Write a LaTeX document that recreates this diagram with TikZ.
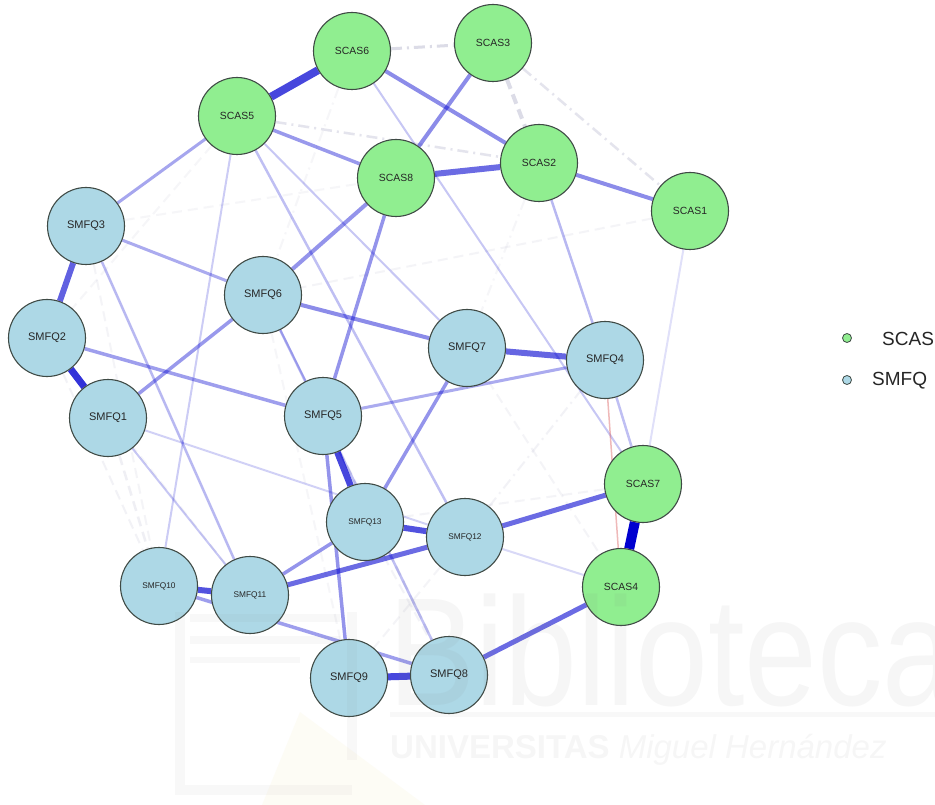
\documentclass[tikz,border=0pt]{standalone}
\usepackage{fontspec}
\setmainfont{Liberation Sans}
\usetikzlibrary{backgrounds}
\definecolor{nodegreen}{HTML}{90EE90}
\definecolor{nodeblue}{HTML}{ADD8E6}
\definecolor{nodeline}{HTML}{3F4A45}
\definecolor{posedge}{HTML}{0000D0}
\definecolor{negedge}{HTML}{D85050}
\definecolor{weakedge}{HTML}{A8A8C4}
\definecolor{wmgray}{HTML}{808080}
\definecolor{wmyellow}{HTML}{E8D060}

\begin{document}
\begin{tikzpicture}[x=1pt,y=-1pt,
  item/.style={circle, draw=nodeline, line width=1.1pt, minimum size=77pt,
    inner sep=0pt, text=black!85, font=\fontsize{10.4}{12}\selectfont},
  scas/.style={item, fill=nodegreen},
  smfq/.style={item, fill=nodeblue, font=\fontsize{11}{12}\selectfont},
  smfqs/.style={item, fill=nodeblue, font=\fontsize{8.3}{10}\selectfont},
  plink/.style 2 args={draw=posedge, line width=#1, draw opacity=#2},
  nlink/.style 2 args={draw=negedge, line width=#1, draw opacity=#2},
  wlink/.style 2 args={draw=weakedge, line width=#1, draw opacity=#2,
    dash pattern=on 10pt off 6pt},
  wdot/.style 2 args={draw=weakedge, line width=#1, draw opacity=#2,
    dash pattern=on 11pt off 5pt on 2pt off 5pt},
  legdot/.style={circle, draw=nodeline, line width=0.8pt, minimum size=9pt, inner sep=0pt},
  legtext/.style={anchor=west, inner sep=0pt, font=\fontsize{19}{22}\selectfont, text=black!85}
]
\useasboundingbox (0,0) rectangle (935,805);

% ---- variables ----
\node[scas] (SCAS6) at (352,51)  {SCAS6};
\node[scas] (SCAS3) at (493,43)  {SCAS3};
\node[scas] (SCAS5) at (237,116) {SCAS5};
\node[scas] (SCAS8) at (396,178) {SCAS8};
\node[scas] (SCAS2) at (539,163) {SCAS2};
\node[scas] (SCAS1) at (690,211) {SCAS1};
\node[scas] (SCAS7) at (643,484) {SCAS7};
\node[scas] (SCAS4) at (621,587) {SCAS4};
\node[smfq] (SMFQ3) at (86,226)  {SMFQ3};
\node[smfq] (SMFQ6) at (263,295) {SMFQ6};
\node[smfq] (SMFQ2) at (47,338)  {SMFQ2};
\node[smfq] (SMFQ1) at (108,418) {SMFQ1};
\node[smfq] (SMFQ7) at (467,348) {SMFQ7};
\node[smfq] (SMFQ4) at (605,360) {SMFQ4};
\node[smfq] (SMFQ5) at (323,416) {SMFQ5};
\node[smfqs] (SMFQ13) at (365,522) {SMFQ13};
\node[smfqs] (SMFQ12) at (465,537) {SMFQ12};
\node[smfqs] (SMFQ10) at (159,586) {SMFQ10};
\node[smfqs] (SMFQ11) at (250,595) {SMFQ11};
\node[smfq] (SMFQ9) at (349,678) {SMFQ9};
\node[smfq] (SMFQ8) at (449,675) {SMFQ8};

% ---- edges, behind the circles ----
\begin{pgfonlayer}{background}
  \fill[white] (0,0) rectangle (935,805);
  % weak edges
  \draw[wdot={3}{0.4}] (SCAS6) -- (SCAS3);
  \draw[wdot={2.5}{0.3}] (SCAS5) -- (SCAS2);
  \draw[wlink={4}{0.4}] (SCAS3) -- (SCAS2);
  \draw[wdot={2.5}{0.3}] (SCAS3) -- (SCAS1);
  \draw[wlink={2}{0.12}] (SCAS1) -- (SMFQ6);
  \draw[wlink={2.5}{0.18}] (SMFQ1) -- (SMFQ10);
  \draw[wlink={2}{0.14}] (SMFQ2) -- (SMFQ10);
  \draw[wlink={2}{0.12}] (SMFQ3) -- (SMFQ10);
  \draw[wlink={2.5}{0.16}] (SMFQ5) -- (SMFQ8);
  \draw[wlink={2}{0.13}] (SMFQ13) -- (SMFQ8);
  \draw[wlink={2}{0.12}] (SMFQ12) -- (SMFQ9);
  \draw[wdot={2}{0.14}] (SMFQ12) -- (SMFQ4);
  \draw[wlink={2}{0.12}] (SMFQ7) -- (SCAS4);
  \draw[wlink={2}{0.12}] (SMFQ13) -- (SCAS7);
  \draw[wlink={2}{0.1}] (SMFQ6) -- (SMFQ9);
  \draw[wlink={2}{0.1}] (SMFQ3) -- (SCAS8);
  \draw[wdot={2}{0.1}] (SCAS6) -- (SMFQ6);
  \draw[wlink={2}{0.1}] (SCAS5) -- (SMFQ2);
  \draw[wdot={2}{0.1}] (SCAS2) -- (SMFQ7);
  \draw[wlink={2}{0.1}] (SMFQ2) -- (SMFQ11);
  % light edges
  \draw[plink={2}{0.12}] (SCAS1) -- (SCAS7);
  \draw[plink={2}{0.15}] (SMFQ12) -- (SCAS4);
  \draw[plink={2}{0.18}] (SMFQ1) -- (SMFQ12);
  \draw[plink={2}{0.22}] (SMFQ1) -- (SMFQ11);
  \draw[plink={2}{0.2}] (SCAS5) -- (SMFQ10);
  \draw[plink={2}{0.2}] (SMFQ6) -- (SMFQ5);
  \draw[plink={2.5}{0.25}] (SMFQ6) -- (SMFQ8);
  \draw[plink={2}{0.22}] (SCAS6) -- (SCAS7);
  \draw[plink={2}{0.22}] (SCAS5) -- (SMFQ7);
  \draw[plink={2.5}{0.25}] (SCAS5) -- (SMFQ12);
  \draw[plink={2.5}{0.25}] (SMFQ4) -- (SCAS7);
  \draw[plink={2.5}{0.28}] (SCAS2) -- (SMFQ4);
  \draw[plink={2.5}{0.28}] (SMFQ3) -- (SMFQ11);
  \draw[nlink={1.5}{0.4}] (SMFQ4) -- (SCAS4);
  % medium edges
  \draw[plink={3}{0.33}] (SMFQ3) -- (SMFQ6);
  \draw[plink={3}{0.35}] (SCAS5) -- (SMFQ3);
  \draw[plink={3}{0.33}] (SMFQ5) -- (SMFQ4);
  \draw[plink={3.5}{0.38}] (SMFQ10) -- (SMFQ8);
  \draw[plink={3.5}{0.42}] (SMFQ5) -- (SMFQ9);
  \draw[plink={3.5}{0.42}] (SMFQ13) -- (SMFQ11);
  \draw[plink={3.5}{0.42}] (SMFQ7) -- (SMFQ13);
  \draw[plink={3.5}{0.38}] (SMFQ2) -- (SMFQ5);
  \draw[plink={3.5}{0.4}] (SMFQ6) -- (SMFQ1);
  \draw[plink={3.5}{0.4}] (SCAS5) -- (SCAS8);
  \draw[plink={3.5}{0.42}] (SCAS8) -- (SMFQ5);
  \draw[plink={4}{0.42}] (SMFQ6) -- (SCAS8);
  \draw[plink={4}{0.45}] (SMFQ6) -- (SMFQ7);
  \draw[plink={4}{0.45}] (SCAS2) -- (SCAS1);
  \draw[plink={4}{0.45}] (SCAS3) -- (SCAS8);
  \draw[plink={4}{0.45}] (SCAS6) -- (SCAS2);
  % strong edges
  \draw[plink={5}{0.58}] (SCAS4) -- (SMFQ8);
  \draw[plink={5}{0.58}] (SMFQ12) -- (SCAS7);
  \draw[plink={5}{0.58}] (SMFQ12) -- (SMFQ11);
  \draw[plink={6}{0.58}] (SCAS8) -- (SCAS2);
  \draw[plink={6}{0.68}] (SMFQ10) -- (SMFQ11);
  \draw[plink={6}{0.68}] (SMFQ13) -- (SMFQ12);
  \draw[plink={6}{0.6}] (SMFQ7) -- (SMFQ4);
  \draw[plink={6}{0.62}] (SMFQ3) -- (SMFQ2);
  \draw[plink={6.5}{0.72}] (SMFQ5) -- (SMFQ13);
  \draw[plink={7}{0.72}] (SMFQ9) -- (SMFQ8);
  \draw[plink={7}{0.8}] (SMFQ2) -- (SMFQ1);
  \draw[plink={8}{0.72}] (SCAS5) -- (SCAS6);
  \draw[plink={10}{1}] (SCAS7) -- (SCAS4);
\end{pgfonlayer}

% ---- legend ----
\node[legdot, fill=nodegreen] (legS) at (847,338) {};
\node[legdot, fill=nodeblue]  (legM) at (847,380) {};
\node[legtext] (legStext) at (882,339) {SCAS};
\node[legtext] (legMtext) at (872,381) {SMFQ};

% ---- library watermark ----
\begin{scope}[opacity=0.05]
  \draw[wmgray, line width=10pt] (180,612) -- (180,790) -- (352,790);
  \draw[wmgray, line width=10pt] (352,612) -- (352,760);
  \draw[wmgray, line width=8pt] (190,618) -- (340,618);
  \draw[wmgray, line width=8pt] (190,640) -- (340,640);
  \draw[wmgray, line width=6pt] (190,660) -- (300,660);
  \draw[wmgray, line width=5pt] (390,714) -- (935,714);
\end{scope}
\fill[wmyellow, opacity=0.06] (262,805) -- (300,712) -- (425,805) -- cycle;
\node[anchor=base west, inner sep=0pt, xscale=0.85, text=wmgray, text opacity=0.07,
  font=\fontsize{154}{160}\selectfont] (wmTitle) at (388,705) {Biblioteca};
\node[anchor=base west, inner sep=0pt, text=wmgray, text opacity=0.07,
  font=\fontsize{33}{36}\selectfont] (wmSub) at (390,758)
  {\textbf{UNIVERSITAS} \textit{Miguel Hernández}};
\end{tikzpicture}
\end{document}
